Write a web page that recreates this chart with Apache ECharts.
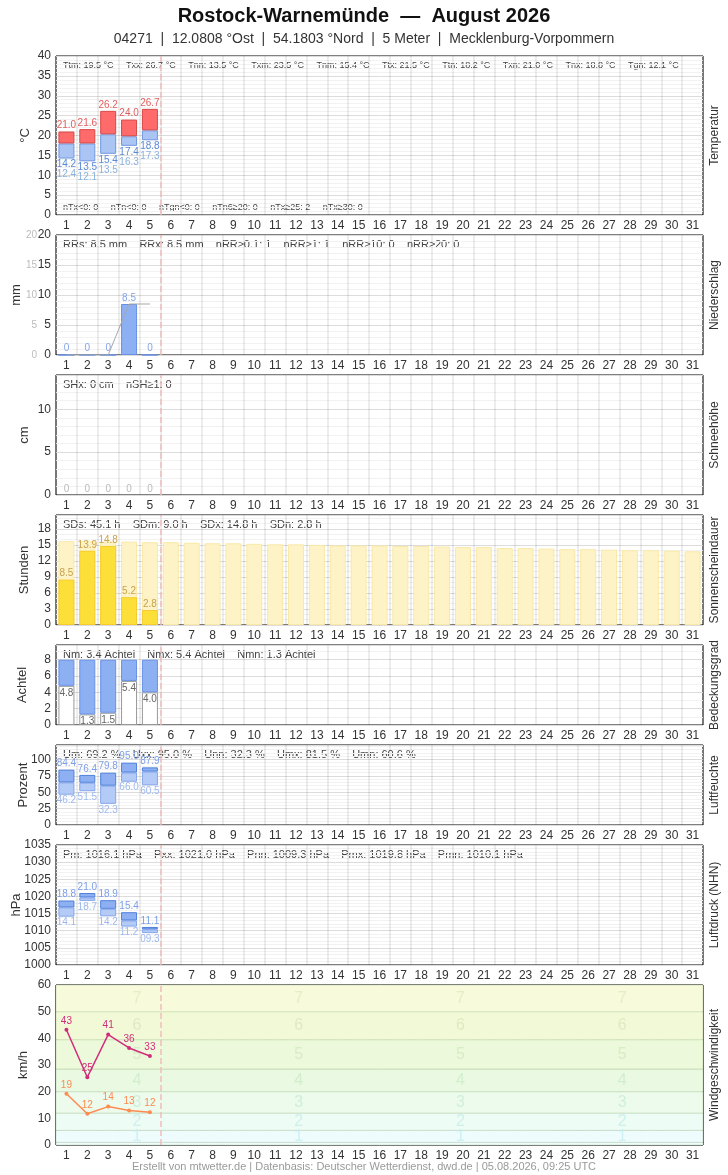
<!DOCTYPE html>
<html>
<head>
<meta charset="utf-8">
<script src="https://cdn.jsdelivr.net/npm/echarts@6/dist/echarts.min.js"></script>
<style>
  html, body { margin: 0; padding: 0; background: #fff; }
  #chart { width: 728px; height: 1175px; }
</style>
</head>
<body>
<div id="chart"></div>
<script>
// Tageswerte August 2026 (nur Tag 1-5 vorhanden)
const dayLabels = ['1','2','3','4','5','6','7','8','9','10','11','12','13','14','15','16',
  '17','18','19','20','21','22','23','24','25','26','27','28','29','30','31'];
const lastDay = 5;

const tempMax = [21.0, 21.6, 26.2, 24.0, 26.7];
const tempMean = [18.0, 18.0, 20.3, 19.8, 21.3];
const tempMin = [14.2, 13.5, 15.4, 17.4, 18.8];
const tempGround = [12.4, 12.1, 13.5, 16.3, 17.3];

const precip = [0, 0, 0, 8.5, 0];
const precipSum = [0, 0, 0, 8.5, 8.5];

const snow = [0, 0, 0, 0, 0];

const sunshine = [8.5, 13.9, 14.8, 5.2, 2.8];
const sunPossible = [15.7, 15.7, 15.6, 15.6, 15.5, 15.5, 15.4, 15.3, 15.3, 15.2, 15.1, 15.1, 15.0, 14.9, 14.9,
  14.9, 14.8, 14.8, 14.7, 14.6, 14.6, 14.4, 14.4, 14.3, 14.2, 14.2, 14.1, 14.0, 14.0, 13.9, 13.8];

const cloud = [4.8, 1.3, 1.5, 5.4, 4.0];

const humMax = [84.4, 76.4, 79.8, 95.0, 87.9];
const humMean = [65.0, 64.5, 60.0, 80.0, 81.5];
const humMin = [46.2, 51.5, 32.3, 66.0, 60.5];

const presMax = [1018.8, 1021.0, 1018.9, 1015.4, 1011.1];
const presMean = [1016.8, 1019.7, 1016.4, 1013.0, 1010.4];
const presMin = [1014.1, 1018.7, 1014.2, 1011.2, 1009.3];

const windGust = [43.2, 25.4, 41.4, 36.4, 33.4];
const windMean = [19.2, 11.7, 14.4, 12.9, 12.3];

// Beaufort-Grenzen in km/h
const bftLimits = [0, 1, 5.5, 12, 20, 28.5, 39.5, 50, 60];

// Kennwerte (Text)
const statsTempTop = ['Ttm: 19.5 °C', 'Txx: 26.7 °C', 'Tnn: 13.5 °C', 'Txm: 23.5 °C', 'Tnm: 15.4 °C',
  'Ttx: 21.5 °C', 'Ttn: 18.2 °C', 'Txn: 21.0 °C', 'Tnx: 18.8 °C', 'Tgn: 12.1 °C'];
const statsTempBottom = ['nTx<0: 0', 'nTn<0: 0', 'nTgn<0: 0', 'nTn6≥20: 0', 'nTx≥25: 2', 'nTx≥30: 0'];
const statsPrecip = ['RRs: 8.5 mm', 'RRx: 8.5 mm', 'nRR≥0.1: 1', 'nRR≥1: 1', 'nRR≥10: 0', 'nRR≥20: 0'];
const statsSnow = ['SHx: 0 cm', 'nSH≥1: 0'];
const statsSun = ['SDs: 45.1 h', 'SDm: 9.0 h', 'SDx: 14.8 h', 'SDn: 2.8 h'];
const statsCloud = ['Nm: 3.4 Achtel', 'Nmx: 5.4 Achtel', 'Nmn: 1.3 Achtel'];
const statsHum = ['Um: 69.2 %', 'Uxx: 95.0 %', 'Unn: 32.3 %', 'Umx: 81.5 %', 'Umn: 60.6 %'];
const statsPres = ['Pm: 1016.1 hPa', 'Pxx: 1021.0 hPa', 'Pnn: 1009.3 hPa', 'Pmx: 1019.8 hPa', 'Pmn: 1010.1 hPa'];
const statsWind = ['Ff: 14.2 km/h', 'Fxm: 36.2 km/h', 'Fxx: 43.2 km/h', 'Fmx: 36.4 km/h', 'Ffx: 19.1 km/h', 'nFx≥12Bft: 0'];

const FONT = '"Liberation Sans", Arial, Helvetica, sans-serif';

// Farben
const bandFill = ['#effcfe', '#eefcfd', '#eefcf6', '#edfbec', '#e9f9e2', '#ecf9da', '#f1f9d7', '#f7fadb'];
const bandText = ['#c4ecf0', '#c4ecf0', '#c6ece8', '#c8ecd4', '#cdeac8', '#d3e8c0', '#dce6bc', '#e4e8bc'];

// Panels: Lage und Achsen
const panels = [
  { top: 56,  height: 159, unit: '°C',      side: 'Temperatur',          min: 0,    max: 40,   interval: 5,  minor: 5, gap: 24, stats: statsTempTop },
  { top: 235, height: 120, unit: 'mm',      side: 'Niederschlag',        min: 0,    max: 20,   interval: 5,  minor: 5, gap: 33, stats: statsPrecip },
  { top: 375, height: 120, unit: 'cm',      side: 'Schneehöhe',          min: 0,    max: 14,   interval: 5,  minor: 5, gap: 25, stats: statsSnow },
  { top: 515, height: 110, unit: 'Stunden', side: 'Sonnenscheindauer',   min: 0,    max: 20.6, interval: 3,  minor: 3, gap: 25, stats: statsSun },
  { top: 645, height: 80,  unit: 'Achtel',  side: 'Bedeckungsgrad',      min: 0,    max: 9.8,  interval: 2,  minor: 2, gap: 27, stats: statsCloud },
  { top: 745, height: 80,  unit: 'Prozent', side: 'Luftfeuchte',         min: 0,    max: 122,  interval: 25, minor: 5, gap: 26, stats: statsHum },
  { top: 845, height: 120, unit: 'hPa',     side: 'Luftdruck (NHN)',     min: 1000, max: 1035, interval: 5,  minor: 5, gap: 33, stats: statsPres },
  { top: 985, height: 160, unit: 'km/h',    side: 'Windgeschwindigkeit', min: 0,    max: 60,   interval: 10, minor: 0, gap: 26, stats: statsWind }
];
const N = panels.length;

const chart = echarts.init(document.getElementById('chart'));

const grid = panels.map(p => ({
  left: 56, right: 25, top: p.top, height: p.height, outerBoundsMode: 'none', containLabel: false,
  show: true, borderColor: '#000', borderWidth: 1, backgroundColor: 'transparent'
}));

const xAxis = panels.map((p, i) => ({
  type: 'category', gridIndex: i, data: dayLabels, boundaryGap: true,
  axisLine: { show: false }, axisTick: { show: false },
  axisLabel: { interval: 0, color: '#333', fontSize: 12, margin: 5, fontFamily: FONT },
  splitLine: { show: true, interval: 0, lineStyle: { color: i === 7 ? 'rgba(0,0,0,0.11)' : 'rgba(0,0,0,0.07)', width: 2 } }
})).concat(panels.map((p, i) => ({
  type: 'value', gridIndex: i, min: 0.5, max: 31.5, show: false
})));

const yAxis = panels.map((p, i) => ({
  type: 'value', gridIndex: i, min: p.min, max: p.max, interval: p.interval,
  name: p.unit, nameLocation: 'middle', nameGap: p.gap, nameMoveOverlap: false,
  nameTextStyle: { color: '#333', fontSize: 13, fontFamily: FONT },
  axisLine: { show: false }, axisTick: { show: false },
  axisLabel: { color: '#333', fontSize: 12, margin: 5, fontFamily: FONT, formatter: v => String(v),
    showMaxLabel: (p.max - p.min) % p.interval === 0 },
  splitLine: { show: i !== 7, lineStyle: { color: '#dcdcdc', width: 1 } },
  minorTick: { show: false, splitNumber: p.minor || 5 },
  minorSplitLine: { show: i !== 7, lineStyle: { color: '#f2f2f2', width: 1 } }
}));
// zweite (graue) Skala für Niederschlagssumme
yAxis.push({
  type: 'value', gridIndex: 1, min: 0, max: 20, interval: 5, position: 'left', offset: 14,
  axisLine: { show: false }, axisTick: { show: false },
  axisLabel: { color: '#bbb', fontSize: 10, margin: 5, fontFamily: FONT },
  splitLine: { show: false }
});

const lbl = (color, extra) => Object.assign({ show: true, color: color, fontSize: 10, fontFamily: FONT, distance: 1 }, extra || {});
const sub = (a, b) => a.map((v, i) => +(v - b[i]).toFixed(2));
const BW = 16;

const series = [];

// Temperatur
series.push(
  { type: 'bar', xAxisIndex: 0, yAxisIndex: 0, stack: 'T', barWidth: BW, data: tempMin,
    itemStyle: { color: 'transparent' }, silent: true },
  { type: 'bar', xAxisIndex: 0, yAxisIndex: 0, stack: 'T', barWidth: BW, data: sub(tempMean, tempMin),
    itemStyle: { color: '#aac5f4', borderColor: '#6f97e0', borderWidth: 1 },
    label: lbl('#5a89d6', { position: 'bottom', lineHeight: 10,
      formatter: p => '{a|' + tempMin[p.dataIndex].toFixed(1) + '}\n{b|' + tempGround[p.dataIndex].toFixed(1) + '}',
      rich: { a: { color: '#5a89d6', fontSize: 10, lineHeight: 10, fontFamily: FONT },
              b: { color: '#8ab2dc', fontSize: 10, lineHeight: 10, fontFamily: FONT } } }) },
  { type: 'bar', xAxisIndex: 0, yAxisIndex: 0, stack: 'T', barWidth: BW, data: sub(tempMax, tempMean),
    itemStyle: { color: '#ff6b6b', borderColor: '#d64848', borderWidth: 1 },
    label: lbl('#e06060', { position: 'top', formatter: p => tempMax[p.dataIndex].toFixed(1) }) }
);

// Niederschlag
series.push(
  { type: 'bar', xAxisIndex: 1, yAxisIndex: 1, barWidth: BW, data: precip,
    itemStyle: { color: '#8db0f3', borderColor: '#6790e6', borderWidth: 1 },
    label: lbl('#86a6ea', { position: 'top' }) },
  { type: 'line', xAxisIndex: 1, yAxisIndex: 8, data: precipSum, symbol: 'none',
    lineStyle: { color: '#a8a8a8', width: 1 }, silent: true }
);

// Schneehöhe
series.push(
  { type: 'bar', xAxisIndex: 2, yAxisIndex: 2, barWidth: BW, data: snow,
    itemStyle: { color: '#d8e4ff' }, label: lbl('#bbbbbb', { position: 'top' }) }
);

// Sonnenscheindauer
series.push(
  { type: 'bar', xAxisIndex: 3, yAxisIndex: 3, barWidth: BW, data: sunPossible, silent: true,
    itemStyle: { color: '#fdf3c7', borderColor: '#f9e8a6', borderWidth: 1 } },
  { type: 'bar', xAxisIndex: 3, yAxisIndex: 3, barWidth: BW, barGap: '-100%', data: sunshine,
    itemStyle: { color: '#fddf3a', borderColor: '#f6cc2a', borderWidth: 1 },
    label: lbl('#c9a24c', { position: 'top', formatter: p => p.value.toFixed(1) }) }
);

// Bedeckungsgrad
series.push(
  { type: 'bar', xAxisIndex: 4, yAxisIndex: 4, stack: 'N', barWidth: BW, data: cloud,
    itemStyle: { color: '#ffffff', borderColor: '#999', borderWidth: 1 },
    label: lbl('#666', { position: 'insideTop', distance: 2, formatter: p => p.value.toFixed(1) }) },
  { type: 'bar', xAxisIndex: 4, yAxisIndex: 4, stack: 'N', barWidth: BW, data: cloud.map(v => +(8 - v).toFixed(1)),
    itemStyle: { color: '#8db0f3', borderColor: '#6790e6', borderWidth: 1 } }
);

// Luftfeuchte / Luftdruck: Min-Mittel-Max-Kästen
function boxSeries(idx, mins, means, maxs, fmt) {
  return [
    { type: 'bar', xAxisIndex: idx, yAxisIndex: idx, stack: 'B' + idx, barWidth: BW, data: mins,
      itemStyle: { color: 'transparent' }, silent: true },
    { type: 'bar', xAxisIndex: idx, yAxisIndex: idx, stack: 'B' + idx, barWidth: BW, data: sub(means, mins),
      itemStyle: { color: '#b3cbf6', borderColor: '#84a6e9', borderWidth: 1 },
      label: lbl('#9db8ee', { position: 'bottom', formatter: p => fmt(mins[p.dataIndex]) }) },
    { type: 'bar', xAxisIndex: idx, yAxisIndex: idx, stack: 'B' + idx, barWidth: BW, data: sub(maxs, means),
      itemStyle: { color: '#8eb0f2', borderColor: '#4f80dc', borderWidth: 1 },
      label: lbl('#7c9ee8', { position: 'top', formatter: p => fmt(maxs[p.dataIndex]) }) }
  ];
}
series.push(...boxSeries(5, humMin, humMean, humMax, v => v.toFixed(1)));
series.push(...boxSeries(6, presMin, presMean, presMax, v => (v - 1000).toFixed(1).padStart(4, '0')));

// Wind: Beaufort-Bänder
const bands = [];
for (let k = 0; k < bftLimits.length - 1; k++) {
  bands.push([{ yAxis: bftLimits[k], itemStyle: { color: bandFill[k] } }, { yAxis: bftLimits[k + 1] }]);
}
series.push({
  type: 'line', xAxisIndex: 15, yAxisIndex: 7, data: [], z: -1, silent: true,
  markArea: { silent: true, itemStyle: { borderColor: 'rgba(90,140,60,0.18)', borderWidth: 1 }, data: bands }
});
const bftPoints = [];
for (let k = 1; k < bftLimits.length - 1; k++) {
  for (let q = 0; q < 4; q++) {
    bftPoints.push({
      value: [0.5 + 31 * (2 * q + 1) / 8, (bftLimits[k] + bftLimits[k + 1]) / 2, String(k)],
      label: { color: bandText[k] }
    });
  }
}
series.push({
  type: 'scatter', xAxisIndex: 15, yAxisIndex: 7, symbolSize: 0, data: bftPoints, silent: true, z: 1,
  label: { show: true, position: 'inside', fontSize: 16, fontFamily: FONT, formatter: p => p.value[2] }
});
series.push(
  { type: 'line', xAxisIndex: 7, yAxisIndex: 7, data: windGust, symbol: 'circle', symbolSize: 4,
    itemStyle: { color: '#d22d7c' }, lineStyle: { color: '#d22d7c', width: 1.5 },
    label: lbl('#d22d7c', { position: 'top', distance: 2, formatter: p => Math.round(p.value) }) },
  { type: 'line', xAxisIndex: 7, yAxisIndex: 7, data: windMean, symbol: 'circle', symbolSize: 4,
    itemStyle: { color: '#ff8a52' }, lineStyle: { color: '#ff8a52', width: 1.5 },
    label: lbl('#ff8a52', { position: 'top', distance: 2, formatter: p => Math.round(p.value) }) }
);

// Linie "heute"
for (let i = 0; i < N; i++) {
  series.push({
    type: 'line', xAxisIndex: N + i, yAxisIndex: i, data: [], silent: true,
    markLine: { silent: true, symbol: 'none', label: { show: false },
      lineStyle: { color: '#f2bcbc', type: 'dashed', width: 1.5 },
      data: [{ xAxis: lastDay + 0.5 }] }
  });
}

// Texte
const graphic = [
  { type: 'text', left: 'center', top: 6, style: { text: 'Rostock-Warnemünde  —  August 2026',
      font: 'bold 20px ' + FONT, fill: '#111' } },
  { type: 'text', left: 'center', top: 32, style: {
      text: '04271  |  12.0808 °Ost  |  54.1803 °Nord  |  5 Meter  |  Mecklenburg-Vorpommern',
      font: '14px ' + FONT, fill: '#333' } },
  { type: 'text', left: 'center', top: 1161, style: {
      text: 'Erstellt von mtwetter.de | Datenbasis: Deutscher Wetterdienst, dwd.de | 05.08.2026, 09:25 UTC',
      font: '11px ' + FONT, fill: '#9a9a9a' } }
];
panels.forEach((p, i) => {
  graphic.push({ type: 'text', x: 715, y: p.top + p.height / 2, rotation: Math.PI / 2,
    style: { text: p.side, font: '12px ' + FONT, fill: '#333', align: 'center', verticalAlign: 'middle' } });
  const small = i === 0;
  graphic.push({ type: 'text', x: 63, y: p.top + 10,
    style: { text: p.stats.join(small ? '     ' : '    '), font: (small ? '9px ' : '11px ') + FONT,
      fill: '#444', verticalAlign: 'middle' } });
});
graphic.push({ type: 'text', x: 63, y: 208,
  style: { text: statsTempBottom.join('     '), font: '9px ' + FONT, fill: '#444', verticalAlign: 'middle' } });

chart.setOption({
  animation: false,
  backgroundColor: '#fff',
  textStyle: { fontFamily: FONT },
  grid: grid,
  xAxis: xAxis,
  yAxis: yAxis,
  series: series,
  graphic: graphic
});
</script>
</body>
</html>
